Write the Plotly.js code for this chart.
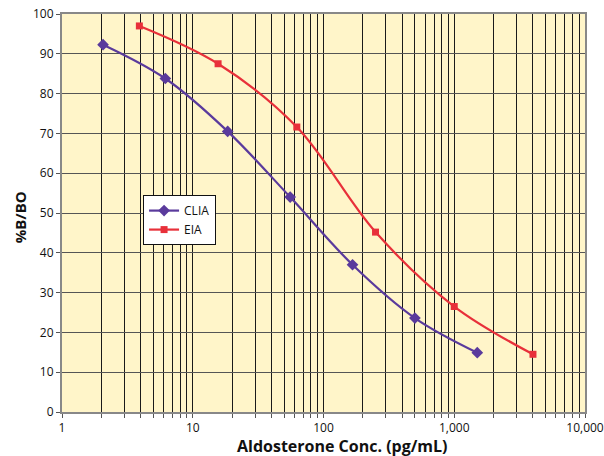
<!DOCTYPE html>
<html><head><meta charset="utf-8">
<script src="https://cdn.plot.ly/plotly-3.0.1.min.js"></script>
<style>html,body{margin:0;padding:0;background:#fff}</style>
</head><body><div id="chart" style="width:604px;height:456px"></div>
<script>
const cliaX = [2.06, 6.17, 18.5, 55.6, 166.7, 500, 1500];
const cliaY = [92.3, 83.8, 70.5, 54.0, 37.0, 23.6, 14.9];
const eiaX = [3.906, 15.625, 62.5, 250, 1000, 4000];
const eiaY = [97.0, 87.5, 71.6, 45.2, 26.5, 14.5];
const yTicks = [0,10,20,30,40,50,60,70,80,90,100];
const decadeLabels = {1:'1',10:'10',100:'100',1000:'1,000',10000:'10,000'};

const xVals = [], xText = [];
for (let d = 1; d <= 1000; d *= 10) {
  for (let k = 1; k <= 9; k++) { xVals.push(d*k); xText.push(k===1 ? decadeLabels[d] : ''); }
}
xVals.push(10000); xText.push(decadeLabels[10000]);

const fam = 'Open Sans, Roboto, sans-serif';
const data = [
  {x: cliaX, y: cliaY, name: 'CLIA', mode: 'lines+markers', type: 'scatter',
   line: {color: '#5A3A9C', width: 2.2, shape: 'spline'},
   marker: {symbol: 'diamond', size: 9, color: '#5A3A9C'}},
  {x: eiaX, y: eiaY, name: 'EIA', mode: 'lines+markers', type: 'scatter',
   line: {color: '#E8303A', width: 2.2, shape: 'spline'},
   marker: {symbol: 'square', size: 7, color: '#E8303A'}}
];
const layout = {
  width: 604, height: 456,
  margin: {l: 62, r: 19, t: 14, b: 44},
  paper_bgcolor: '#fff', plot_bgcolor: '#FFF5C9',
  font: {size: 12, family: fam, color: '#111'},
  showlegend: true,
  legend: {x: 0.155, y: 0.545, xanchor: 'left', yanchor: 'top', bgcolor: '#fff',
           bordercolor: '#111', borderwidth: 1, font: {size: 12, family: fam, color: '#111'},
           tracegroupgap: 0},
  xaxis: {type: 'log', range: [0, 4], tickvals: xVals, ticktext: xText,
          showgrid: true, gridcolor: '#1a1a1a', gridwidth: 1,
          showline: true, linecolor: '#888', linewidth: 2, mirror: true,
          ticks: 'outside', ticklen: 4, tickcolor: '#555', zeroline: false,
          tickfont: {size: 12}, automargin: false},
  yaxis: {range: [0, 100], tickvals: yTicks,
          showgrid: true, gridcolor: '#555', gridwidth: 1,
          showline: true, linecolor: '#888', linewidth: 2, mirror: true,
          ticks: 'outside', ticklen: 4, tickcolor: '#555', zeroline: false,
          tickfont: {size: 12}, automargin: false},
  annotations: [
    {text: '<b>Aldosterone Conc. (pg/mL)</b>', xref: 'paper', yref: 'paper',
     x: 0.537, y: -0.085, xanchor: 'center', yanchor: 'middle', showarrow: false,
     font: {size: 16, family: fam, color: '#111'}},
    {text: '<b>%B/BO</b>', xref: 'paper', yref: 'paper', textangle: -90,
     x: -0.08, y: 0.49, xanchor: 'center', yanchor: 'middle', showarrow: false,
     font: {size: 15, family: fam, color: '#111'}}
  ]
};
Plotly.newPlot('chart', data, layout, {displayModeBar: false, staticPlot: true});
</script></body></html>
